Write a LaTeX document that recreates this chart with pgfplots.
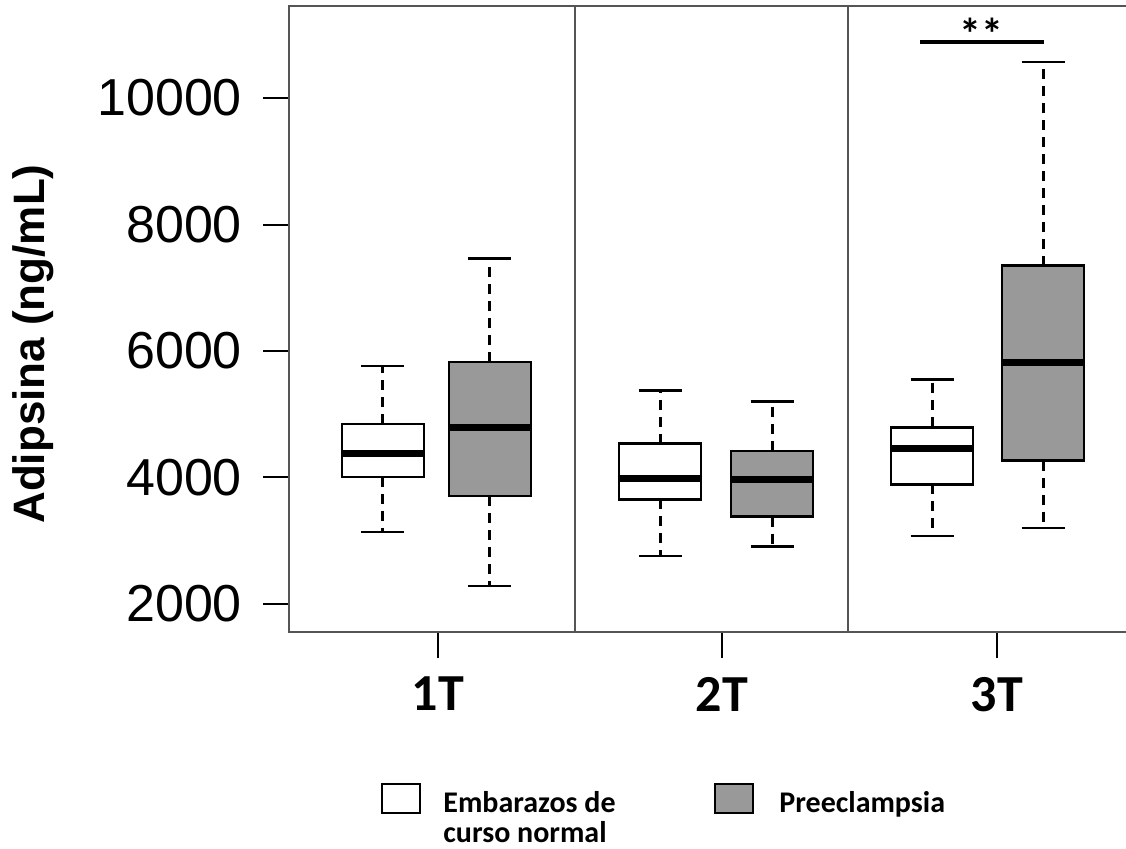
\documentclass[border=0pt]{standalone}
\usepackage{pgfplots}
\pgfplotsset{compat=1.18}
\usepackage{fontspec}
\setmainfont{Liberation Sans}
\newfontfamily\calibri{Carlito}
\definecolor{boxgray}{HTML}{999999}
\definecolor{framegray}{HTML}{555555}

% one box-and-whisker: position, lower whisker, Q1, median, Q3, upper whisker, fill
\newcommand{\boxitem}[7]{%
  \pgfmathsetmacro\xbl{#1-0.41}\pgfmathsetmacro\xbr{#1+0.41}%
  \pgfmathsetmacro\xcl{#1-0.215}\pgfmathsetmacro\xcr{#1+0.215}%
  \addplot[line width=1.5pt, dash pattern=on 5pt off 3.5pt] coordinates {(#1,#5) (#1,#6)};
  \addplot[line width=1.5pt, dash pattern=on 5pt off 3.5pt] coordinates {(#1,#3) (#1,#2)};
  \addplot[line width=1.4pt] coordinates {(\xcl,#6) (\xcr,#6)};
  \addplot[line width=1.4pt] coordinates {(\xcl,#2) (\xcr,#2)};
  \addplot[draw=black, line width=1.4pt, fill=#7] coordinates {(\xbl,#3) (\xbr,#3) (\xbr,#5) (\xbl,#5)} -- cycle;
  \addplot[line width=3.5pt] coordinates {(\xbl,#4) (\xbr,#4)};
}

\begin{document}
\begin{tikzpicture}
\useasboundingbox (0,0) rectangle (563pt,424pt);
\begin{axis}[
  at={(144.5pt,108pt)}, anchor=south west,
  width=418.5pt, height=313pt, scale only axis,
  xmin=2.89, xmax=11.26, ymin=1557, ymax=11455,
  axis line style={draw=none},
  xtick={4.38,7.22,9.97}, xticklabels={1T,2T,3T},
  ytick={2000,4000,6000,8000,10000},
  scaled y ticks=false,
  xtick pos=bottom, ytick pos=left, tick align=outside,
  major tick length=13pt,
  tick style={black, line width=1pt},
  /pgf/number format/assume math mode=true,
  /pgf/number format/1000 sep={},
  yticklabel style={font=\fontsize{26}{26}\selectfont, xshift=-7pt},
  xticklabel style={font=\calibri\bfseries\fontsize{26}{26}\selectfont, yshift=-6pt},
  clip=false,
]
% frame (open on the right) and trimester separators
\draw[framegray, line width=0.9pt] (rel axis cs:1,1) -- (rel axis cs:0,1) -- (rel axis cs:0,0) -- (rel axis cs:1,0);
\draw[framegray, line width=0.9pt] (axis cs:5.75,1557) -- (axis cs:5.75,11455);
\draw[framegray, line width=0.9pt] (axis cs:8.48,1557) -- (axis cs:8.48,11455);

% 1T
\boxitem{3.83}{3138}{4008}{4372}{4846}{5763}{white}
\boxitem{4.90}{2285}{3707}{4798}{5826}{7466}{boxgray}
% 2T
\boxitem{6.60}{2759}{3655}{3981}{4535}{5379}{white}
\boxitem{7.72}{2906}{3380}{3965}{4419}{5205}{boxgray}
% 3T
\boxitem{9.32}{3075}{3892}{4455}{4794}{5546}{white}
\boxitem{10.43}{3202}{4266}{5826}{7349}{10569}{boxgray}

% significance bracket
\draw[line width=2pt] (axis cs:9.20,10890) -- (axis cs:10.44,10890);
\node[font=\calibri\bfseries\fontsize{22}{22}\selectfont, anchor=base, inner sep=0pt]
  at (axis cs:9.815,10770) {**};
\end{axis}

% y-axis title
\node[rotate=90, font=\bfseries\fontsize{22}{22}\selectfont]
  at (16.5pt,252pt) {Adipsina (ng/mL)};

% legend
\draw[line width=1pt, fill=white] (191pt,17.5pt) rectangle (210pt,32pt);
\draw[line width=1pt, fill=boxgray] (357.5pt,17.5pt) rectangle (376.5pt,32pt);
\node[anchor=base west, inner sep=0pt, font=\calibri\bfseries\fontsize{15}{15}\selectfont]
  at (221.5pt,18pt) {Embarazos de};
\node[anchor=base west, inner sep=0pt, font=\calibri\bfseries\fontsize{15}{15}\selectfont]
  at (221.5pt,3pt) {curso normal};
\node[anchor=base west, inner sep=0pt, font=\calibri\bfseries\fontsize{15}{15}\selectfont]
  at (389.5pt,18pt) {Preeclampsia};
\end{tikzpicture}
\end{document}
